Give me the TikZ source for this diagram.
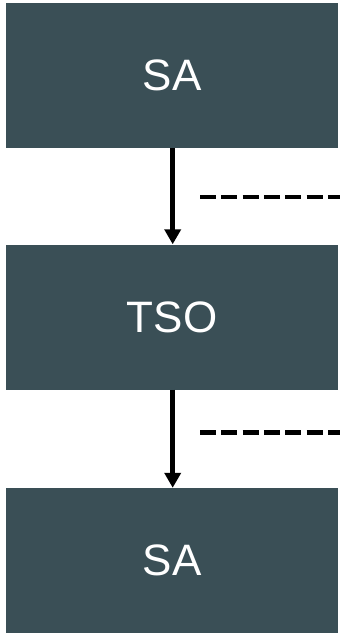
\documentclass[tikz,border=0pt]{standalone}
\usepackage{fontspec}
\setmainfont{Liberation Sans}
\usetikzlibrary{arrows.meta}
\definecolor{boxfill}{HTML}{3A4F56}
\begin{document}
\begin{tikzpicture}[x=1pt,y=-1pt,
  block/.style={fill=boxfill, draw=none, minimum width=332pt, minimum height=145pt,
    inner sep=0pt, text=white, font=\fontsize{44}{44}\selectfont},
  flow/.style={line width=4.5pt, -{Triangle[width=16pt,length=15pt]}},
  dashline/.style={line width=4.5pt, dash pattern=on 16pt off 5.3pt}]
\useasboundingbox (0,0) rectangle (340,635);
\node[block] (sa1) at (172,75.5) {SA};
\node[block] (tso) at (172,317) {TSO};
\node[block] (sa2) at (172,560.5) {SA};
\draw[flow] (sa1.south -| 172.7,0) -- (tso.north -| 172.7,0);
\draw[flow] (tso.south -| 172.7,0) -- (sa2.north -| 172.7,0);
\coordinate (d1a) at (200,197);
\coordinate (d1b) at (342,197);
\coordinate (d2a) at (200,432.5);
\coordinate (d2b) at (342,432.5);
\draw[dashline] (d1a) -- (d1b);
\draw[dashline] (d2a) -- (d2b);
\end{tikzpicture}
\end{document}
